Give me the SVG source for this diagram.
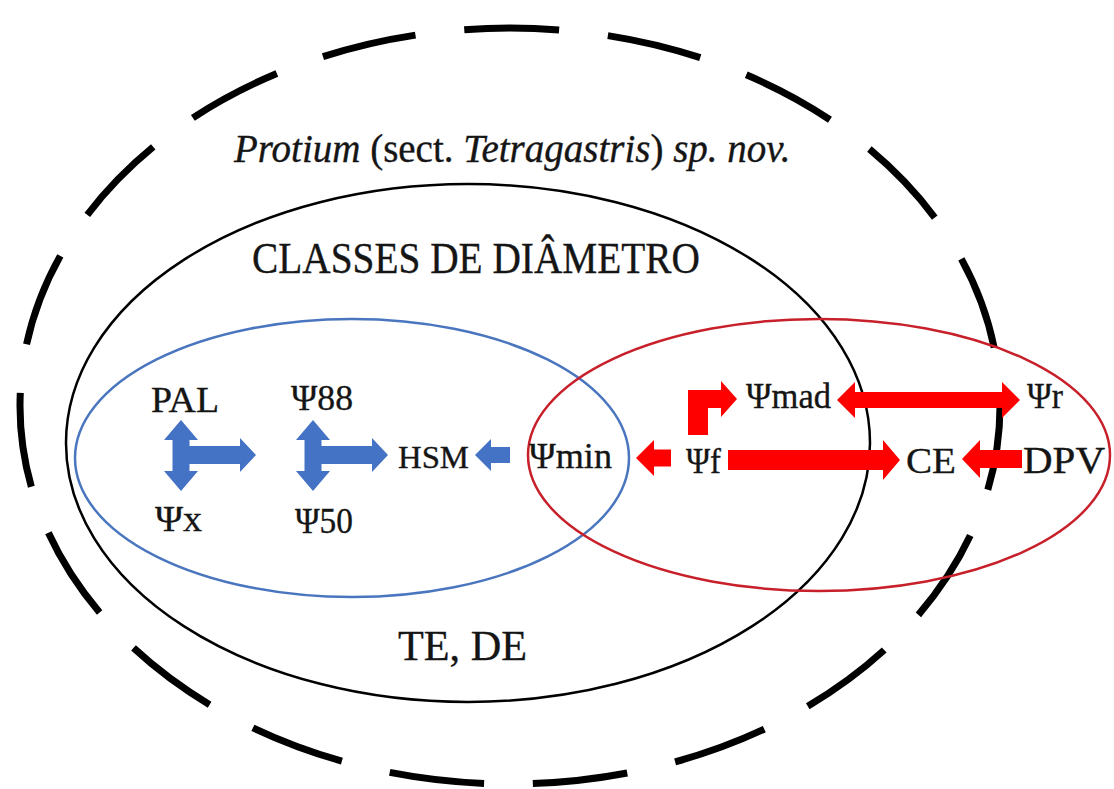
<svg xmlns="http://www.w3.org/2000/svg" width="1114" height="789" viewBox="0 0 1114 789">
<style>
text{font-family:'Liberation Serif','Times New Roman','DejaVu Serif',serif;fill:#151515;stroke:#151515;stroke-width:0.35}
.blue{fill:#4472c4}
.red{fill:#ff0000}
</style>
<defs>
<path id="tarrow" d="M0,-35 L17,-15 L8.5,-15 L8.5,-9 L59,-9 L59,-17 L75,0 L59,17 L59,9 L8.5,9 L8.5,16 L17,16 L0,36 L-17,16 L-8.5,16 L-8.5,-15 L-17,-15 Z"/>
</defs>
<rect width="1114" height="789" fill="#ffffff"/>
<g id="outer">
<ellipse cx="510" cy="406" rx="490" ry="378" fill="none" stroke="#000" stroke-width="7" stroke-dasharray="95 49.1" stroke-dashoffset="10"/>
<text x="234" y="162" font-size="39"><tspan font-style="italic">Protium</tspan> (sect. <tspan font-style="italic">Tetragastris</tspan>) <tspan font-style="italic">sp. nov.</tspan></text>
</g>
<g id="classes">
<ellipse cx="468" cy="443" rx="402" ry="259" fill="none" stroke="#000" stroke-width="2.5"/>
<text x="252" y="273" font-size="44" textLength="448" lengthAdjust="spacingAndGlyphs">CLASSES DE DIÂMETRO</text>
<text x="398" y="660" font-size="42" textLength="129" lengthAdjust="spacingAndGlyphs">TE, DE</text>
</g>
<g id="blue-group">
<ellipse cx="352" cy="458" rx="277" ry="139" fill="none" stroke="#4a76bf" stroke-width="2.5"/>
</g>
<g id="red-group">
<ellipse cx="819" cy="455" rx="291" ry="136" fill="none" stroke="#c8202a" stroke-width="2.5"/>
</g>
<g id="node-PAL"><text x="151" y="412" font-size="36" textLength="68" lengthAdjust="spacingAndGlyphs">PAL</text></g>
<g id="node-Px"><text x="155" y="531" font-size="36" textLength="47" lengthAdjust="spacingAndGlyphs">Ψx</text></g>
<g id="node-P88"><text x="291" y="410" font-size="36" textLength="62" lengthAdjust="spacingAndGlyphs">Ψ88</text></g>
<g id="node-P50"><text x="295" y="533" font-size="36" textLength="58" lengthAdjust="spacingAndGlyphs">Ψ50</text></g>
<g id="node-HSM"><text x="398" y="468" font-size="32" textLength="71" lengthAdjust="spacingAndGlyphs">HSM</text></g>
<g id="node-Pmin"><text x="529" y="468" font-size="36" textLength="83" lengthAdjust="spacingAndGlyphs">Ψmin</text></g>
<g id="node-Pf"><text x="686" y="473" font-size="36" textLength="35" lengthAdjust="spacingAndGlyphs">Ψf</text></g>
<g id="node-Pmad"><text x="746" y="408" font-size="36" textLength="85" lengthAdjust="spacingAndGlyphs">Ψmad</text></g>
<g id="node-Pr"><text x="1027" y="408" font-size="36" textLength="36" lengthAdjust="spacingAndGlyphs">Ψr</text></g>
<g id="node-CE"><text x="906" y="473" font-size="36" textLength="50" lengthAdjust="spacingAndGlyphs">CE</text></g>
<g id="node-DPV"><text x="1023" y="473" font-size="37" textLength="82" lengthAdjust="spacingAndGlyphs">DPV</text></g>
<g id="connectors">
<use href="#tarrow" class="blue" transform="translate(181,455)"/>
<use href="#tarrow" class="blue" transform="translate(313,455)"/>
<path class="blue" d="M475,455 L491,439 L491,447 L510,447 L510,463 L491,463 L491,471 Z"/>
<path class="red" d="M636,458 L654,440 L654,449.5 L671,449.5 L671,466.5 L654,466.5 L654,476 Z"/>
<path class="red" d="M688,435 L688,390 L721,390 L721,381 L737,399 L721,417 L721,408 L708,408 L708,435 Z"/>
<path class="red" d="M837,400 L855,382 L855,392 L1002,392 L1002,382 L1020,400 L1002,418 L1002,408 L855,408 L855,418 Z"/>
<path class="red" d="M728,450 L883,450 L883,440 L900,460 L883,480 L883,470 L728,470 Z"/>
<path class="red" d="M962,459 L980,440 L980,450 L1022,450 L1022,468 L980,468 L980,478 Z"/>
</g>
</svg>
